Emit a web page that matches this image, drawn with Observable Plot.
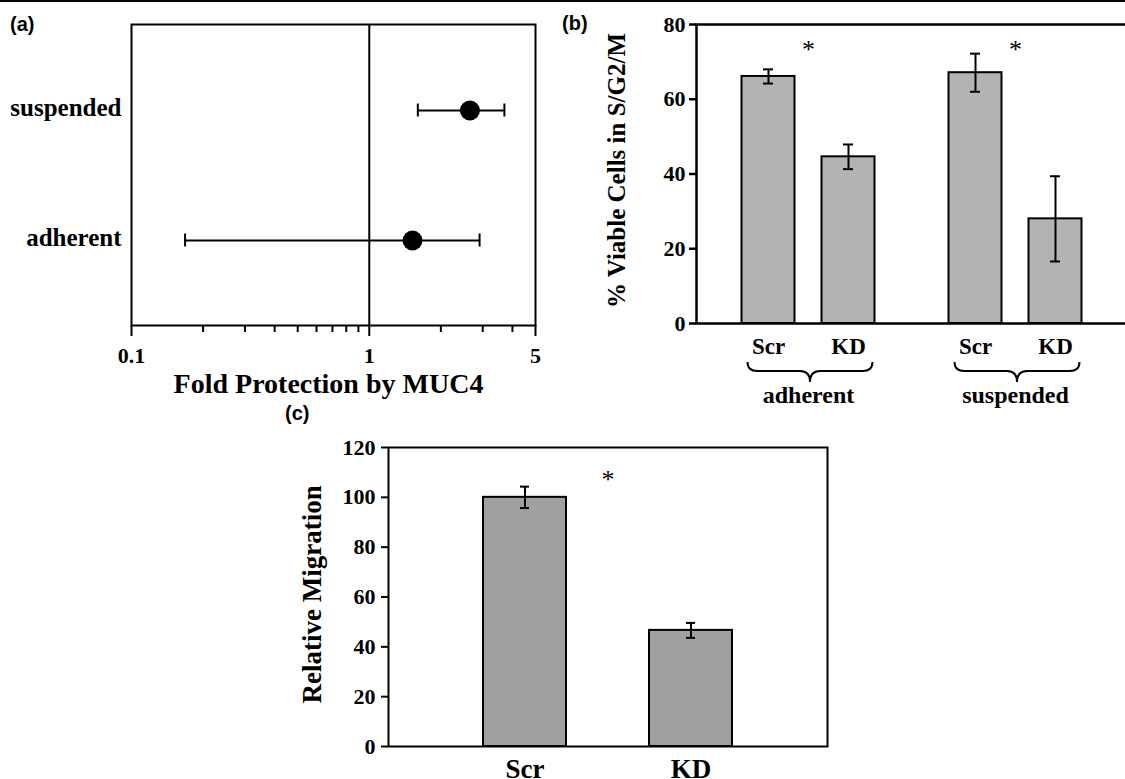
<!DOCTYPE html>
<html>
<head>
<meta charset="utf-8">
<script src="https://cdn.jsdelivr.net/npm/d3@7"></script>
<script src="https://cdn.jsdelivr.net/npm/@observablehq/plot@0.6"></script>
<style>
  body { margin: 0; background: #fff; }
  #fig { position: relative; width: 1125px; height: 779px; overflow: hidden; background: #fff; }
  #topline { position: absolute; left: 0; top: 0; width: 1125px; height: 2px; background: #000; }
  .plabel { position: absolute; font-family: "Liberation Sans", Arial, sans-serif; font-weight: bold; font-size: 20px; line-height: 20px; color: #000; }
</style>
</head>
<body>
<div id="fig">
  <div id="topline"></div>
  <div class="plabel" style="left:10px; top:14px;">(a)</div>
  <div class="plabel" style="left:562px; top:13px;">(b)</div>
  <div class="plabel" style="left:285px; top:403px;">(c)</div>
</div>
<script>
// ---------- Panel (a): fold protection by MUC4 (log scale) ----------
const conditionsA = ["suspended", "adherent"];
const foldMean = [2.65, 1.52];
const foldLow = [1.6, 0.168];
const foldHigh = [3.7, 2.91];
const foldTicks = [0.1, 1, 5];
const foldMinorTicks = [0.2, 0.3, 0.4, 0.5, 0.6, 0.7, 0.8, 0.9, 2, 3, 4];
const foldReference = [1];
const foldTitle = "Fold Protection by MUC4";

// ---------- Panel (b): % viable cells in S/G2/M ----------
const groupsB = ["adherent", "suspended"];
const seriesNamesB = ["Scr", "KD"];
const scrViable = [66.1, 67.1];
const scrViableErr = [1.9, 5.1];
const kdViable = [44.6, 28.0];
const kdViableErr = [3.3, 11.4];
const viableTicks = [0, 20, 40, 60, 80];
const viableSigLevel = [73.5, 73.5];
const viableTitle = "% Viable Cells in S/G2/M";

// ---------- Panel (c): relative migration ----------
const treatments = ["Scr", "KD"];
const migration = [100, 46.6];
const migrationErr = [4.3, 3.0];
const migrationTicks = [0, 20, 40, 60, 80, 100, 120];
const migrationSigLevel = [108.2];
const migrationTitle = "Relative Migration";

// ---------- helpers ----------
const serif = "'Liberation Serif', 'Times New Roman', Times, serif";
const fig = document.getElementById("fig");
function place(svg, left, top) {
  svg.style.position = "absolute";
  svg.style.left = left + "px";
  svg.style.top = top + "px";
  svg.style.maxWidth = "none";
  fig.appendChild(svg);
}
const baseStyle = {fontFamily: serif, fontWeight: "bold", background: "transparent", color: "#000", overflow: "visible"};

// ---------- (a) ----------
const rowsA = conditionsA.map((c, i) => ({cond: c, mean: foldMean[i], lo: foldLow[i], hi: foldHigh[i]}));
const plotA = Plot.plot({
  width: 560, height: 400,
  marginLeft: 131, marginRight: 25, marginTop: 24, marginBottom: 75,
  style: baseStyle,
  x: {type: "log", domain: [0.1, 5.0005]},
  y: {type: "band", domain: conditionsA, paddingInner: 0, paddingOuter: 0.149},
  marks: [
    Plot.frame({stroke: "#000", strokeWidth: 2}),
    Plot.ruleX(foldReference, {stroke: "#000", strokeWidth: 2}),
    Plot.axisX(foldMinorTicks, {tickSize: 7, tickFormat: () => "", label: null, strokeWidth: 2}),
    Plot.axisX(foldTicks, {tickSize: 11, tickFormat: () => "", label: null, strokeWidth: 2}),
    Plot.text(foldTicks, {x: d => d, text: d => String(d), frameAnchor: "bottom", lineAnchor: "top", dy: 22, fontSize: 22}),
    Plot.axisY({tickSize: 0, tickPadding: 10, fontSize: 25, label: null, dy: -3}),
    Plot.text([foldTitle], {text: d => d, frameAnchor: "bottom", lineAnchor: "bottom", textAnchor: "middle", dy: 67, dx: -5, fontSize: 28}),
    Plot.ruleY(rowsA, {y: "cond", x1: "lo", x2: "hi", stroke: "#000", strokeWidth: 2}),
    Plot.tickX(rowsA, {x: "lo", y: "cond", insetTop: 58.5, insetBottom: 58.5, stroke: "#000", strokeWidth: 2}),
    Plot.tickX(rowsA, {x: "hi", y: "cond", insetTop: 58.5, insetBottom: 58.5, stroke: "#000", strokeWidth: 2}),
    Plot.dot(rowsA, {x: "mean", y: "cond", r: 10, fill: "#000", stroke: "none"})
  ]
});
place(plotA, 0, 0);

// ---------- (b) ----------
const valuesB = {Scr: scrViable, KD: kdViable};
const errorsB = {Scr: scrViableErr, KD: kdViableErr};
const offsetB = {Scr: -31.5, KD: 48.5};   // position of each series inside its group band
const pairCenterB = (offsetB.Scr + offsetB.KD) / 2;

function seriesMarksB(name) {
  const rows = groupsB.map((g, i) => ({group: g, series: name, value: valuesB[name][i], err: errorsB[name][i]}));
  const dx = offsetB[name];
  return [
    Plot.barY(rows, {x: "group", y: "value", dx, insetLeft: 77, insetRight: 77, fill: "#b3b3b3", stroke: "#000", strokeWidth: 2}),
    Plot.ruleX(rows, {x: "group", y1: d => d.value - d.err, y2: d => d.value + d.err, dx, stroke: "#000", strokeWidth: 2}),
    Plot.tickY(rows, {x: "group", y: d => d.value - d.err, dx, insetLeft: 98.5, insetRight: 98.5, stroke: "#000", strokeWidth: 2}),
    Plot.tickY(rows, {x: "group", y: d => d.value + d.err, dx, insetLeft: 98.5, insetRight: 98.5, stroke: "#000", strokeWidth: 2}),
    Plot.text(rows, {x: "group", text: "series", frameAnchor: "bottom", lineAnchor: "bottom", dx, dy: 30, fontSize: 23})
  ];
}

// curly brace under each group, placed with the x scale
function braces(groups, leftOff, rightOff) {
  return (index, scales, values, dimensions) => {
    const x = scales.x;
    const bw = typeof x.bandwidth === "function" ? x.bandwidth() : 0;
    const base = dimensions.height - dimensions.marginBottom;
    const y0 = base + 39, y1 = base + 48, y2 = base + 59, q = 10;
    const g = document.createElementNS("http://www.w3.org/2000/svg", "g");
    for (const grp of groups) {
      const c = x(grp) + bw / 2;
      const x0 = c + leftOff, x1 = c + rightOff, xm = (x0 + x1) / 2;
      const p = document.createElementNS("http://www.w3.org/2000/svg", "path");
      p.setAttribute("d",
        `M${x0},${y0} Q${x0},${y1} ${x0 + q},${y1} L${xm - q},${y1} Q${xm},${y1} ${xm},${y2} ` +
        `Q${xm},${y1} ${xm + q},${y1} L${x1 - q},${y1} Q${x1},${y1} ${x1},${y0}`);
      p.setAttribute("fill", "none");
      p.setAttribute("stroke", "#000");
      p.setAttribute("stroke-width", "2");
      g.appendChild(p);
    }
    return g;
  };
}

const plotB = Plot.plot({
  width: 600, height: 420,
  marginLeft: 136, marginRight: 10, marginTop: 24, marginBottom: 97,
  style: baseStyle,
  x: {type: "band", domain: groupsB, paddingInner: 0, paddingOuter: 0.0966, align: 0, axis: null},
  y: {domain: [0, 80]},
  marks: [
    ...seriesNamesB.flatMap(seriesMarksB),
    Plot.text(groupsB.map((g, i) => ({group: g, sig: viableSigLevel[i]})), {x: "group", y: "sig", text: () => "*", dx: pairCenterB, dy: 1, fontSize: 26, fontWeight: "normal"}),
    Plot.text(groupsB, {x: d => d, text: d => d, frameAnchor: "bottom", lineAnchor: "bottom", dx: pairCenterB, dy: 79, fontSize: 24}),
    braces(groupsB, -52, 73),
    Plot.frame({stroke: "#000", strokeWidth: 2.5}),
    Plot.axisY(viableTicks, {tickSize: 7, tickPadding: 4, fontSize: 22, label: null, strokeWidth: 2.5}),
    Plot.text([viableTitle], {text: d => d, frameAnchor: "left", textAnchor: "middle", rotate: -90, dx: -79.5, dy: -3.5, fontSize: 25})
  ]
});
place(plotB, 560, 0);

// ---------- (c) ----------
const rowsC = treatments.map((t, i) => ({treatment: t, value: migration[i], err: migrationErr[i]}));
const plotC = Plot.plot({
  width: 560, height: 379,
  marginLeft: 108, marginRight: 13, marginTop: 47, marginBottom: 33,
  style: baseStyle,
  x: {type: "band", domain: treatments, paddingInner: 0.497, paddingOuter: 0.563},
  y: {domain: [0, 120]},
  marks: [
    Plot.barY(rowsC, {x: "treatment", y: "value", fill: "#a0a0a0", stroke: "#000", strokeWidth: 2}),
    Plot.ruleX(rowsC, {x: "treatment", y1: d => d.value - d.err, y2: d => d.value + d.err, stroke: "#000", strokeWidth: 2}),
    Plot.tickY(rowsC, {x: "treatment", y: d => d.value - d.err, insetLeft: 37, insetRight: 37, stroke: "#000", strokeWidth: 2}),
    Plot.tickY(rowsC, {x: "treatment", y: d => d.value + d.err, insetLeft: 37, insetRight: 37, stroke: "#000", strokeWidth: 2}),
    Plot.text(migrationSigLevel, {y: d => d, text: () => "*", dy: 3, fontSize: 26, fontWeight: "normal"}),
    Plot.frame({stroke: "#000", strokeWidth: 2}),
    Plot.axisY(migrationTicks, {tickSize: 7, tickPadding: 6, fontSize: 22, label: null, strokeWidth: 2}),
    Plot.axisX({tickSize: 0, tickPadding: 12.7, fontSize: 27, label: null}),
    Plot.text([migrationTitle], {text: d => d, frameAnchor: "left", textAnchor: "middle", rotate: -90, dx: -75.7, dy: -2.7, fontSize: 27})
  ]
});
place(plotC, 280, 400);
</script>
</body>
</html>
